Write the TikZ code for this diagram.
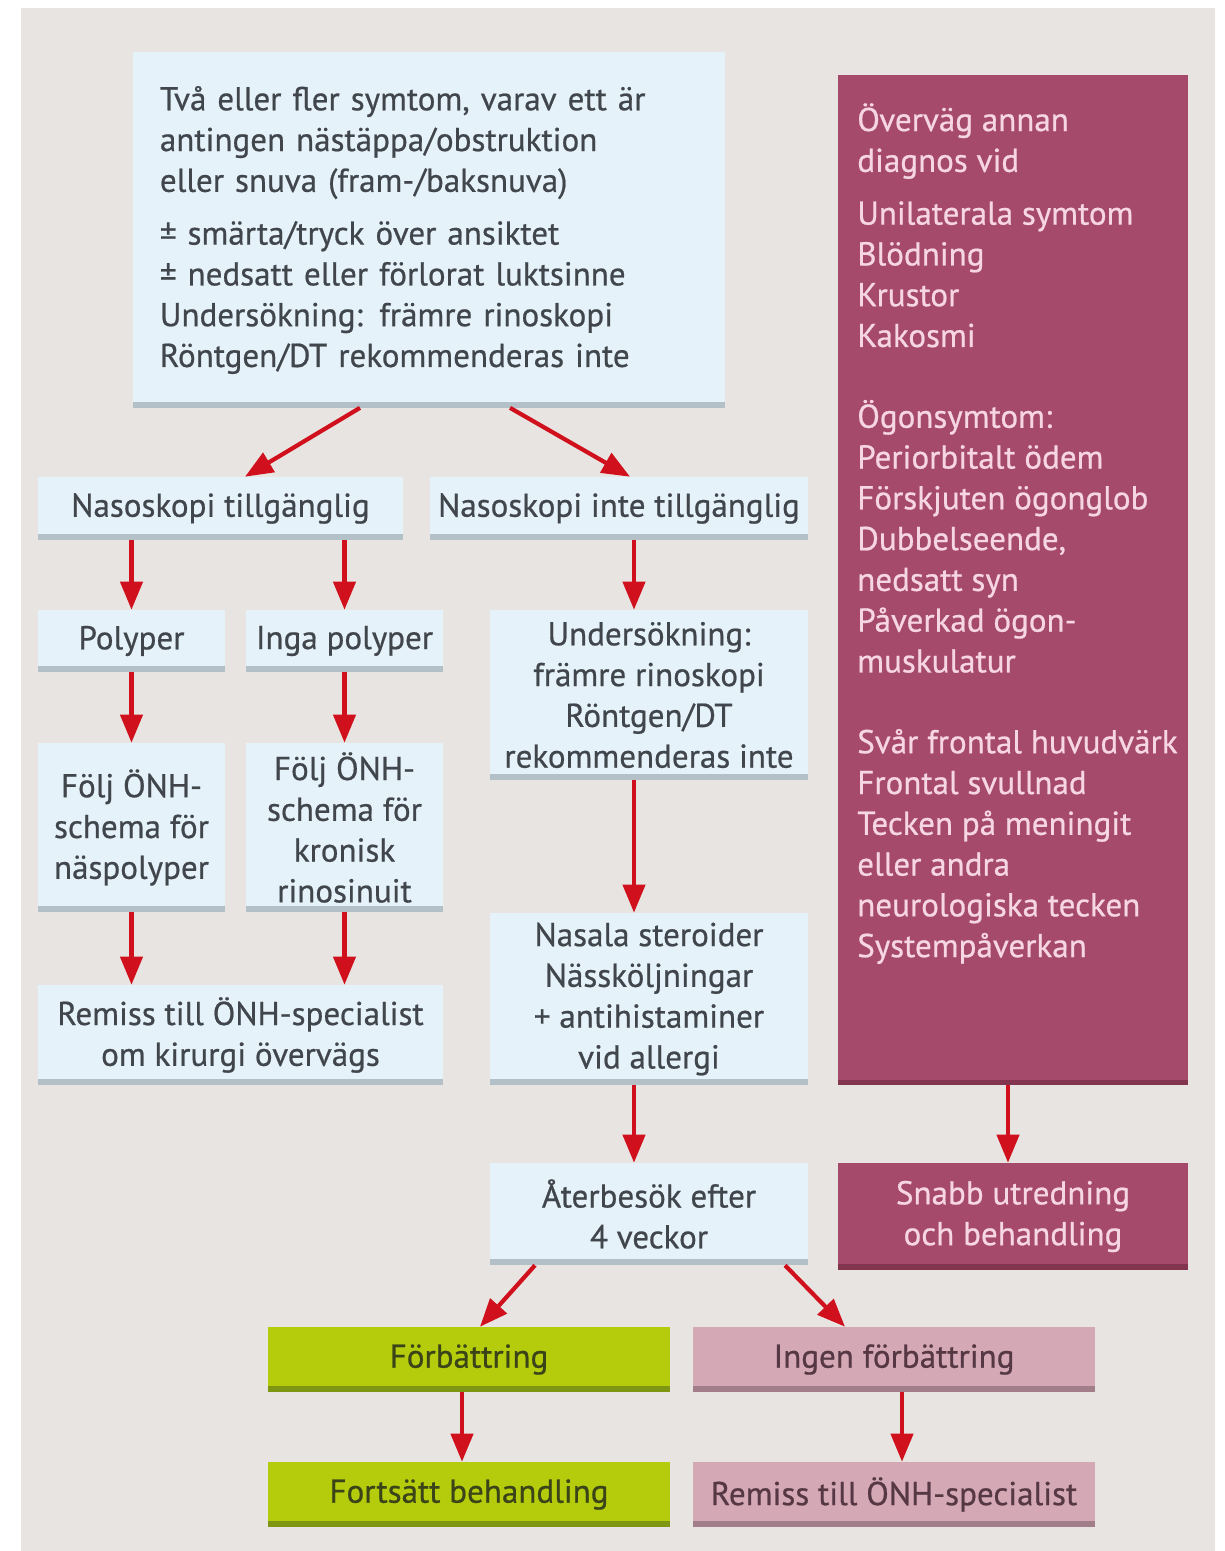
\documentclass[tikz,border=0pt]{standalone}
\usepackage{fontspec}
\setmainfont{PT Sans}[FakeBold=0.6]
\usepackage{xcolor}
\usepackage{tikz}
\usetikzlibrary{arrows.meta, positioning}
\definecolor{paper}{HTML}{E8E4E1}
\definecolor{boxblue}{HTML}{E5F2FA}
\definecolor{blueshade}{HTML}{B4C0C8}
\definecolor{ink}{HTML}{41464C}
\definecolor{alarm}{HTML}{A64A6B}
\definecolor{alarmshade}{HTML}{83344F}
\definecolor{alarmtext}{HTML}{F6D6E2}
\definecolor{lime}{HTML}{B5CC0C}
\definecolor{limeshade}{HTML}{7E9612}
\definecolor{limetext}{HTML}{3A4418}
\definecolor{rose}{HTML}{D5A8B6}
\definecolor{roseshade}{HTML}{A27E8A}
\definecolor{rosetext}{HTML}{553843}
\definecolor{arrowred}{HTML}{D0101C}
\newcommand\boxfont{\fontsize{23.5}{29}\selectfont}
\tikzset{
  footline/.style={path picture={\fill[#1] (path picture bounding box.south west) rectangle ([yshift=1.4mm]path picture bounding box.south east);}},
  info/.style={rectangle, fill=boxblue, footline=blueshade, text=ink, align=center, font=\boxfont, inner sep=0pt},
  alarmbox/.style={rectangle, fill=alarm, footline=alarmshade, text=alarmtext, align=center, font=\boxfont, inner sep=0pt},
  better/.style={rectangle, fill=lime, footline=limeshade, text=limetext, align=center, font=\boxfont, inner sep=0pt, minimum width=10.05cm, minimum height=1.625cm},
  worse/.style={rectangle, fill=rose, footline=roseshade, text=rosetext, align=center, font=\boxfont, inner sep=0pt, minimum width=10.05cm, minimum height=1.625cm},
  arr/.style={-{Triangle[length=7mm, width=5.5mm]}, line width=1.05mm, arrowred},
}

\begin{document}
\begin{tikzpicture}[x=0.025cm, y=-0.025cm]
\useasboundingbox (0,0) rectangle (1224,1551);
\fill[paper] (21,8) rectangle (1215,1551);

\node[info, minimum width=14.8cm, minimum height=8.875cm, text width=13.45cm, align=left] (symptoms) at (429,230)
  {Två eller fler symtom, varav ett är\\ antingen nästäppa/obstruktion\\ eller snuva (fram-/baksnuva)\\[0.3cm]
   ± smärta/tryck över ansiktet\\ ± nedsatt eller förlorat luktsinne\\ Undersökning: främre rinoskopi\\ Röntgen/DT rekommenderas inte};

\node[alarmbox, minimum width=8.75cm, minimum height=25.25cm] (warn) at (1013,580) {};
\node[anchor=north west, align=left, text=alarmtext, font=\boxfont, inner sep=0pt] (warntext) at (857,103)
  {Överväg annan\\ diagnos vid\\[0.3cm]
   Unilaterala symtom\\ Blödning\\ Krustor\\ Kakosmi\\[1cm]
   Ögonsymtom:\\ Periorbitalt ödem\\ Förskjuten ögonglob\\ Dubbelseende,\\ nedsatt syn\\ Påverkad ögon-\\ muskulatur\\[1cm]
   Svår frontal huvudvärk\\ Frontal svullnad\\ Tecken på meningit\\ eller andra\\ neurologiska tecken\\ Systempåverkan};

\node[info, minimum width=9.125cm, minimum height=1.575cm] (scopeyes) at (220.5,508.5) {Nasoskopi tillgänglig};
\node[info, minimum width=9.45cm, minimum height=1.575cm] (scopeno) at (619,508.5) {Nasoskopi inte tillgänglig};

\node[info, minimum width=4.675cm, minimum height=1.55cm] (polyps) at (131.5,641) {Polyper};
\node[info, minimum width=4.925cm, minimum height=1.55cm] (nopolyps) at (344.5,641) {Inga polyper};
\node[info, minimum width=7.95cm, minimum height=4.25cm] (exam) at (649,695)
  {Undersökning:\\ främre rinoskopi\\ Röntgen/DT\\ rekommenderas inte};

\node[info, minimum width=4.675cm, minimum height=4.225cm] (followA) at (131.5,827.5) {Följ ÖNH-\\ schema för\\ näspolyper};
\node[info, minimum width=4.925cm, minimum height=4.225cm] (followB) at (344.5,827.5) {Följ ÖNH-\\ schema för\\ kronisk\\ rinosinuit};

\node[info, minimum width=10.125cm, minimum height=2.5cm] (referral) at (240.5,1035) {Remiss till ÖNH-specialist\\ om kirurgi övervägs};
\node[info, minimum width=7.95cm, minimum height=4.3cm] (steroids) at (649,999)
  {Nasala steroider\\ Nässköljningar\\ + antihistaminer\\ vid allergi};

\node[info, minimum width=7.95cm, minimum height=2.55cm] (revisit) at (649,1214) {Återbesök efter\\ 4 veckor};
\node[alarmbox, minimum width=8.75cm, minimum height=2.675cm] (urgent) at (1013,1216.5) {Snabb utredning\\ och behandling};

\node[better] (improved) at (469,1359.5) {Förbättring};
\node[worse] (notimproved) at (894,1359.5) {Ingen förbättring};
\node[better] (continue) at (469,1494.5) {Fortsätt behandling};
\node[worse] (refer) at (894,1494.5) {Remiss till ÖNH-specialist};

\coordinate (midcol) at (634,0);

\draw[arr] ([xshift=-1.725cm]symptoms.south) -- ([xshift=0.6125cm]scopeyes.north);
\draw[arr] ([xshift=2.025cm]symptoms.south) -- ([xshift=0.275cm]scopeno.north);
\draw[arr] (polyps.north |- scopeyes.south) -- (polyps.north);
\draw[arr] (nopolyps.north |- scopeyes.south) -- (nopolyps.north);
\draw[arr] (scopeno.south -| midcol) -- (exam.north -| midcol);
\draw[arr] (polyps) -- (followA);
\draw[arr] (nopolyps) -- (followB);
\draw[arr] (followA.south) -- (followA.south |- referral.north);
\draw[arr] (followB.south) -- (followB.south |- referral.north);
\draw[arr] (exam.south -| midcol) -- (steroids.north -| midcol);
\draw[arr] (steroids.south -| midcol) -- (revisit.north -| midcol);
\draw[arr] ([xshift=-0.125cm]warn.south) -- ([xshift=-0.125cm]urgent.north);
\draw[arr] ([xshift=-2.85cm]revisit.south) -- ([xshift=0.275cm]improved.north);
\draw[arr] ([xshift=3.4cm]revisit.south) -- ([xshift=-1.225cm]notimproved.north);
\draw[arr] ([xshift=-0.175cm]improved.south) -- ([xshift=-0.175cm]continue.north);
\draw[arr] ([xshift=0.2cm]notimproved.south) -- ([xshift=0.2cm]refer.north);
\end{tikzpicture}
\end{document}
